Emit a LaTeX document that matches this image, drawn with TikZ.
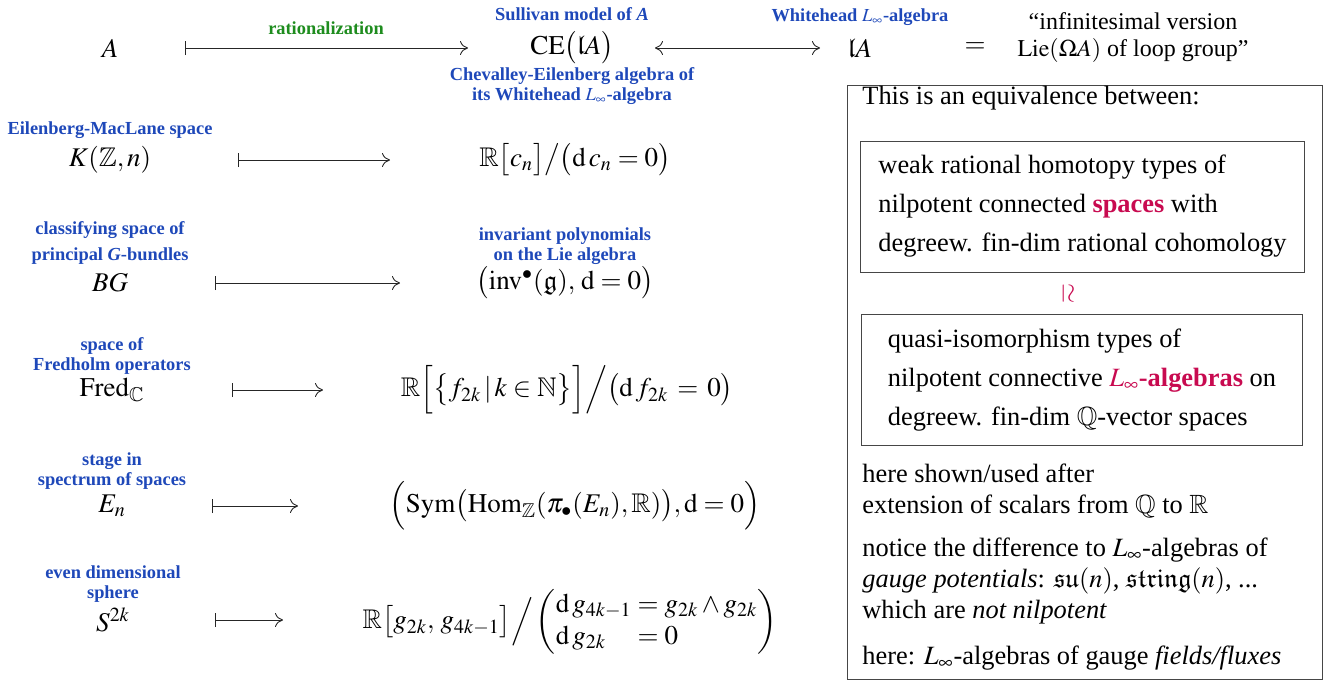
\documentclass[tikz,border=0pt]{standalone}
\usepackage{amsmath,amssymb}
\usepackage{mathptmx}
\usepackage{fontspec}
\setmainfont{Liberation Serif}
\usepackage{tikz}
\usetikzlibrary{arrows.meta, positioning}
\usepackage{xcolor}
\definecolor{labelblue}{RGB}{30,72,185}
\definecolor{ratgreen}{RGB}{30,140,30}
\definecolor{keyred}{RGB}{200,10,80}
\definecolor{framegray}{RGB}{70,70,70}

\begin{document}
\begin{tikzpicture}[
    x=0.5pt, y=-0.5pt,
    obj/.style={inner sep=0pt, font=\fontsize{13.5}{16}\selectfont},
    lbl/.style={inner sep=0pt, align=center, text=labelblue, font=\fontsize{9.2}{10}\selectfont\bfseries},
    boxtext/.style={inner sep=0pt, align=left, font=\fontsize{13.2}{15.5}\selectfont},
    eqbox/.style={draw=framegray, line width=0.5pt, align=left, minimum width=220.5pt, minimum height=65.5pt, inner xsep=9pt, font=\fontsize{13.2}{19.5}\selectfont},
    mapsto/.style={{Bar[width=7pt]}-{Computer Modern Rightarrow[length=4pt, width=7pt]}, line width=0.45pt, black!85},
    equiv/.style={{Computer Modern Rightarrow[length=4pt, width=7pt]}-{Computer Modern Rightarrow[length=4pt, width=7pt]}, line width=0.45pt, black!85},
]
\useasboundingbox (0,0) rectangle (1328,682);

% top row
\node[obj] (A) at (110,48) {$A$};
\node[obj] (CE) at (572,48) {$\mathrm{CE}\big(\mathfrak{l}A\big)$};
\node[obj] (lA) at (860,48) {$\mathfrak{l}A$};
\node[obj] (eq) at (975,48) {$=$};
\node[obj, align=center, font=\fontsize{12}{13.5}\selectfont] (lie) at (1133,38) {``infinitesimal version\\$\mathrm{Lie}(\Omega A)$ of loop group''};
\node[lbl, above=5pt of CE] (sull) {Sullivan model of \textit{A}};
\node[lbl, below=1.5pt of CE] (cealg) {Chevalley-Eilenberg algebra of\\its Whitehead $L_\infty$-algebra};
\node[lbl, above=6pt of lA] (whd) {Whitehead $L_\infty$-algebra};

% left column
\node[obj] (K) at (110,160) {$K(\mathbb{Z},n)$};
\node[obj] (BG) at (110,283) {$BG$};
\node[obj] (Fred) at (112,390) {$\mathrm{Fred}_{\mathbb{C}}$};
\node[obj] (En) at (112,506) {$E_n$};
\node[obj] (S) at (113,620) {$S^{2k}$};

\node[lbl, above=3.5pt of K] (emlbl) {Eilenberg-MacLane space};
\node[lbl, above=4pt of BG] (bglbl) {classifying space of\\[3pt]principal \textit{G}-bundles};
\node[lbl, above=1.5pt of Fred] (fredlbl) {space of\\Fredholm operators};
\node[lbl, above=2.5pt of En] (enlbl) {stage in\\spectrum of spaces};
\node[lbl, above=2.5pt of S] (slbl) {even dimensional\\sphere};

% right column
\node[obj] (Rc) at (575,160) {$\mathbb{R}\big[c_n\big]\big/\big(\mathrm{d}\,c_n = 0\big)$};
\node[obj] (inv) at (565,283) {$\big(\mathrm{inv}^\bullet(\mathfrak{g}),\, \mathrm{d}=0\big)$};
\node[obj] (Rf) at (567,390) {$\mathbb{R}\Big[\big\{ f_{2k} \,\vert\, k \in \mathbb{N} \big\}\Big]\Big/\big(\mathrm{d}\,f_{2k} \,=\, 0\big)$};
\node[obj] (Sym) at (575,506) {$\Big(\mathrm{Sym}\big(\mathrm{Hom}_{\mathbb{Z}}(\pi_\bullet(E_n),\mathbb{R})\big), \mathrm{d}=0\Big)$};
\node[obj] (Rg) at (570,622) {$\mathbb{R}\big[g_{2k},\, g_{4k-1}\big]\Big/\left(\begin{array}{@{}l@{\;}l@{\;}l@{}}\mathrm{d}\,g_{4k-1} & = & g_{2k}\wedge g_{2k}\\ \mathrm{d}\,g_{2k} & = & 0\end{array}\right)$};
\node[lbl, above=0.5pt of inv] (invlbl) {invariant polynomials\\on the Lie algebra};

% arrows
\draw[mapsto, shorten <=37.5pt, shorten >=52pt] (A.center) -- (A.center -| CE.center);
\node[lbl, text=ratgreen] (ratl) at (326,28) {rationalization};
\draw[equiv, shorten <=41.5pt, shorten >=20pt] (CE.center) -- (CE.center -| lA.center);
\draw[mapsto, shorten <=64pt, shorten >=92.5pt] (K.center) -- (K.center -| Rc.center);
\draw[mapsto, shorten <=52.5pt, shorten >=82.5pt] (BG.center) -- (BG.center -| inv.center);
\draw[mapsto, shorten <=60pt, shorten >=122pt] (Fred.center) -- (Fred.center -| Rf.center);
\draw[mapsto, shorten <=50pt, shorten >=138.5pt] (En.center) -- (En.center -| Sym.center);
\draw[mapsto, shorten <=51pt, shorten >=143.5pt] (S.center) -- (S.center -| Rg.center);

% equivalence box
\node[draw=framegray, line width=0.5pt, minimum width=237.5pt, minimum height=297pt] (frame) at (1084.5,382) {};
\node[boxtext, anchor=west] (intro) at (862,98) {This is an equivalence between:};
\node[eqbox] (spaces) at (1082.5,206.5) {weak rational homotopy types of\\nilpotent connected \textcolor{keyred}{\textbf{spaces}} with\\degreew. fin-dim rational cohomology};
\node[text=keyred, inner sep=0pt] (wr) at (1068,294) {\rotatebox{-90}{\scalebox{1.3}{$\simeq$}}};
\node[eqbox] (linf) at (1082,380) {quasi-isomorphism types of\\nilpotent connective \textcolor{keyred}{$L_\infty$\textbf{-algebras}} on\\degreew. fin-dim $\mathbb{Q}$-vector spaces};
\node[boxtext, anchor=west] (scal) at (862,490.5) {here shown/used after\\extension of scalars from $\mathbb{Q}$ to $\mathbb{R}$};
\node[boxtext, anchor=west] (gauge) at (862,581) {notice the difference to $L_\infty$-algebras of\\\textit{gauge potentials}: $\mathfrak{su}(n)$, $\mathfrak{string}(n)$, ...\\which are \textit{not nilpotent}};
\node[boxtext, anchor=west] (flux) at (862,658) {here: $L_\infty$-algebras of gauge \textit{fields/fluxes}};

\end{tikzpicture}
\end{document}
